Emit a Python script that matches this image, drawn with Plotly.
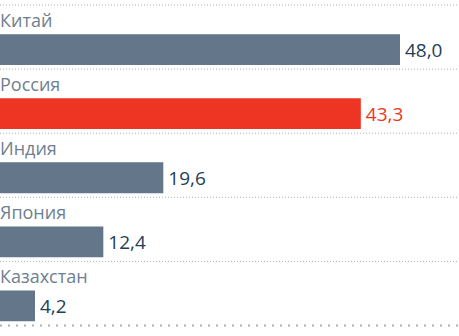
import plotly.graph_objects as go

countries = ["Китай", "Россия", "Индия", "Япония", "Казахстан"]
values = [48.0, 43.3, 19.6, 12.4, 4.2]
value_labels = ["48,0", "43,3", "19,6", "12,4", "4,2"]
highlight = "Россия"

GRAY_BAR = "#64778a"
RED = "#ee3524"
LABEL_COLOR = "#6e7f8f"
VALUE_COLOR = "#1f4058"
LINE_COLOR = "#a9b1ba"

rows = list(range(len(countries)))
bar_y = [r + 0.695 for r in rows]
label_y = [r + 0.27 for r in rows]

bar_colors = [RED if c == highlight else GRAY_BAR for c in countries]
val_colors = [RED if c == highlight else VALUE_COLOR for c in countries]

fig = go.Figure()
fig.add_trace(go.Bar(
    x=values, y=bar_y, orientation="h", width=0.48,
    marker=dict(color=bar_colors, line=dict(width=0)),
    hoverinfo="skip",
))
fig.add_trace(go.Scatter(
    x=values, y=[y + 0.04 for y in bar_y], mode="text",
    text=["\u00a0" + v for v in value_labels],
    textposition="middle right",
    textfont=dict(family="Open Sans", size=19, color=val_colors),
    hoverinfo="skip",
))
fig.add_trace(go.Scatter(
    x=[0] * len(countries), y=label_y, mode="text", text=countries,
    textposition="middle right",
    textfont=dict(family="Open Sans", size=18, color=LABEL_COLOR),
    hoverinfo="skip",
))

shapes = []
for r in rows:
    shapes.append(dict(type="line", xref="paper", x0=0, x1=1, yref="y", y0=r, y1=r,
                       line=dict(color=LINE_COLOR, width=1, dash="1px,2px")))
shapes.append(dict(type="line", xref="paper", x0=0, x1=1, yref="y",
                   y0=len(rows), y1=len(rows),
                   line=dict(color=LINE_COLOR, width=2, dash="2px,6px")))

fig.update_layout(
    width=459, height=336,
    margin=dict(l=0, r=0, t=0, b=0),
    paper_bgcolor="white", plot_bgcolor="white",
    showlegend=False,
    shapes=shapes,
    xaxis=dict(range=[0, 55.08], visible=False, fixedrange=True),
    yaxis=dict(range=[5.164, -0.078], visible=False, fixedrange=True),
)
fig.write_html("out.html", config={"displayModeBar": False})
